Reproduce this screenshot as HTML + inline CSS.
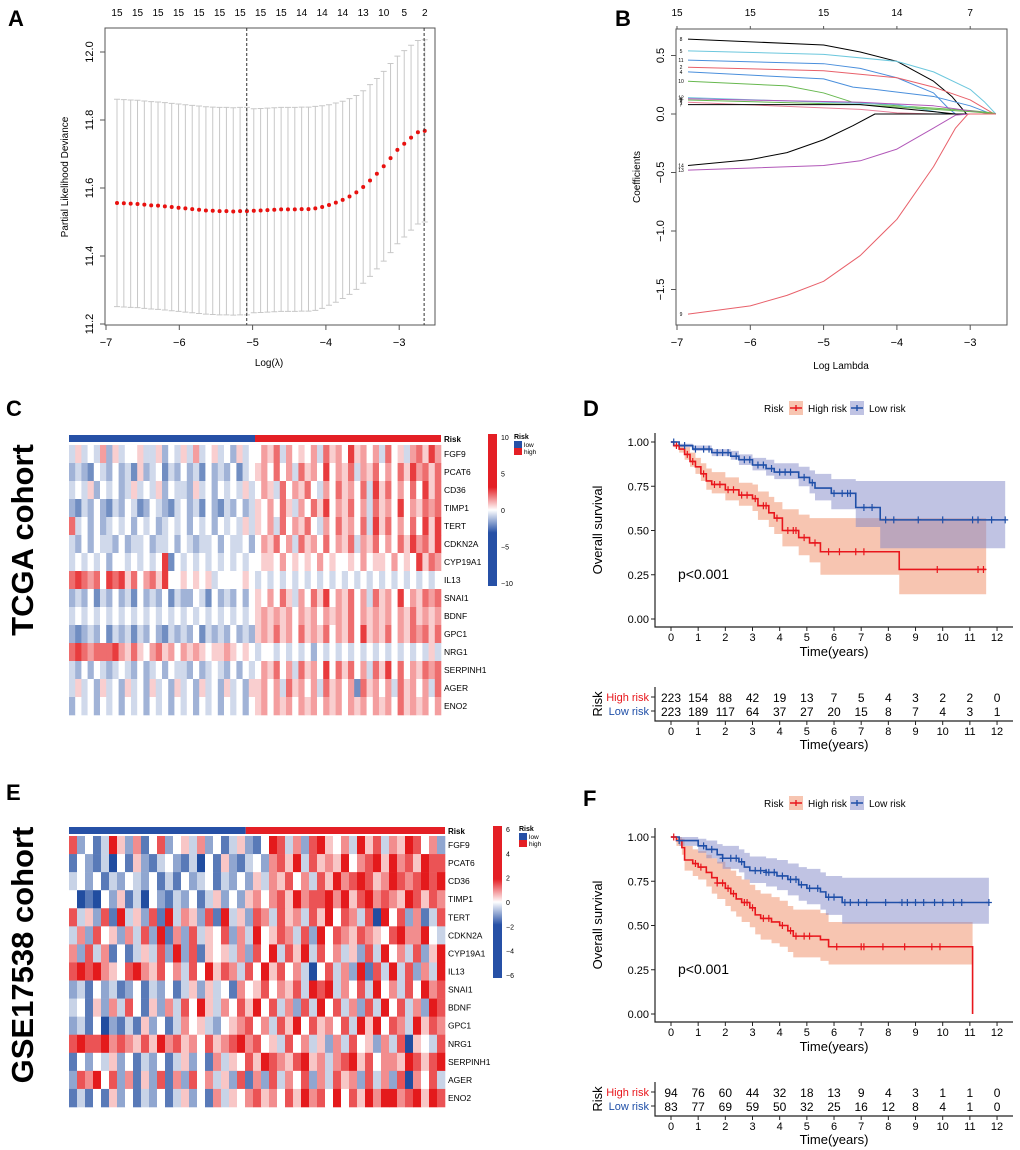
<!DOCTYPE html>
<html><head><meta charset="utf-8"><style>
html,body{margin:0;padding:0;background:#fff;width:1020px;height:1150px;overflow:hidden}
svg{display:block;font-family:"Liberation Sans",Arial,sans-serif}
</style></head><body>
<svg id="fig" width="1020" height="1150" viewBox="0 0 1020 1150"></svg>
<script>
// ---------- Panel A data ----------
const lassoLogLambda0 = -6.85, lassoStep = 0.0933;
const lassoMean = [11.556,11.555,11.554,11.553,11.551,11.549,11.548,11.546,11.544,11.542,11.540,11.538,11.536,11.534,11.533,11.532,11.532,11.531,11.532,11.532,11.533,11.534,11.535,11.536,11.537,11.537,11.537,11.538,11.538,11.540,11.544,11.550,11.557,11.565,11.575,11.587,11.603,11.622,11.642,11.664,11.688,11.712,11.730,11.748,11.764,11.768];
const lassoSE = [0.305,0.305,0.305,0.305,0.305,0.305,0.305,0.305,0.305,0.305,0.305,0.305,0.305,0.305,0.305,0.305,0.305,0.305,0.305,0.305,0.30,0.30,0.30,0.30,0.30,0.30,0.30,0.30,0.30,0.30,0.298,0.295,0.293,0.29,0.288,0.285,0.283,0.282,0.28,0.279,0.278,0.276,0.274,0.272,0.27,0.268];
const lassoTopLabels = ["15","15","15","15","15","15","15","15","15","14","14","14","13","10","5","2"];
const lassoVlines = [-5.08,-2.66];
const aXTicks = [-7,-6,-5,-4,-3];
const aYTicks = ["11.2","11.4","11.6","11.8","12.0"];
// ---------- Panel B data ----------
const coefColors = ["#000","#6cc7dd","#4a8fdc","#e8606a","#4a8fdc","#67b84f","#6cc7dd","#b157b8","#67b84f","#e8809a","#000","#000","#b157b8","#e8606a"];
const coefLabels = ["8","5","11","2","4","10","12","6","3","1","7","14","13","9"];
const coefX = [
 [-6.85,-5,-4.5,-4,-3.5,-3.25,-3.05,-2.65],
 [-6.85,-5,-4,-3.5,-3,-2.8,-2.65],
 [-6.85,-5,-4.5,-4,-3.5,-3.3,-3.2,-2.65],
 [-6.85,-5,-4,-3.5,-3,-2.7,-2.65],
 [-6.85,-5,-4.6,-4.3,-3.5,-3,-2.75,-2.65],
 [-6.85,-5.5,-5,-4.6,-4,-3,-2.7,-2.65],
 [-6.85,-4,-3.3,-2.65],
 [-6.85,-4.5,-3.5,-2.8,-2.65],
 [-6.85,-4.5,-3,-2.7,-2.65],
 [-6.85,-4.5,-4,-3.5,-2.65],
 [-6.85,-4.5,-3.5,-3.2,-2.65],
 [-6.85,-6,-5.5,-5,-4.6,-4.3,-2.65],
 [-6.85,-5,-4.5,-4,-3.5,-3.2,-3.0,-2.65],
 [-6.85,-6,-5.5,-5,-4.5,-4,-3.5,-3.2,-3.03,-2.65]];
const coefY = [
 [0.64,0.59,0.53,0.45,0.28,0.15,0,0],
 [0.54,0.51,0.45,0.36,0.21,0.1,0],
 [0.46,0.43,0.39,0.31,0.18,0.05,0,0],
 [0.40,0.37,0.31,0.23,0.12,0.01,0],
 [0.36,0.30,0.23,0.21,0.15,0.07,0.01,0],
 [0.28,0.24,0.18,0.10,0.07,0.03,0.01,0],
 [0.14,0.08,0,0],
 [0.13,0.10,0.07,0.01,0],
 [0.12,0.08,0.02,0.005,0],
 [0.10,0.04,0.01,0,0],
 [0.08,0.08,0.02,0,0],
 [-0.44,-0.39,-0.33,-0.22,-0.1,0,0],
 [-0.48,-0.44,-0.40,-0.30,-0.12,-0.01,0,0],
 [-1.71,-1.64,-1.55,-1.43,-1.21,-0.9,-0.45,-0.12,0,0]];
const bTopLabels = ["15","15","15","14","7"];
const bXTicks = [-7,-6,-5,-4,-3];
const bYTicks = [0.5,0,-0.5,-1,-1.5];
// ---------- Heatmap data (digit 0=deep blue,4=white,8=deep red) ----------
const genes = ["FGF9","PCAT6","CD36","TIMP1","TERT","CDKN2A","CYP19A1","IL13","SNAI1","BDNF","GPC1","NRG1","SERPINH1","AGER","ENO2"];
const heatC = [
 "353436253445335243536345342534465736454637564856463745367586",
 "232143242315234132423142324134564746375648465736574647586757",
 "343524342353435243325342434353465374657436475647385746474857",
 "213242132431243213423142132423546475364758465746375648465767",
 "734242343424342343424342434353546374657436475647385746474858",
 "324243324233423342432334243342465746375647465736574647586758",
 "343434244343434814343434343434455464545464544546455464548576",
 "787674878574675844545453444454343434343434343434343434343434",
 "232413242314232413224314232424546475364758465746375648465767",
 "343434343434343434343434343434565656465646565746565646575656",
 "212324132313242132324132324232565756475657465748565746576757",
 "787677786575467564656545565454344343434243434343434343434353",
 "324243234324234243324234324243465746375648475746375847465767",
 "353425342534253425342534253425564637564637564617564637564637",
 "243424342434243424342434243424564656465646564656465647565646"];
const heatE = [
 "72413852614724536241352148736278546385736587462",
 "14213041521342130415213426758375658467858675877",
 "34241324324131423413242536574637586787568767878",
 "40104251304213241352425646758677868578676587576",
 "73527183527183652718352763756375847637084726137",
 "36274526372816273547263845763728476576547866843",
 "62736141353728271545362748375837463527384637258",
 "78786547865746374857637485746304736281738372638",
 "23142312413241352534164574657387836473846374867",
 "34152637415263748536475847362738473627384736287",
 "23140213152413645324567463758475647385847638576",
 "78778676575867564756786745374635263745263705437",
 "14243524132413524163547587657856367857466587578",
 "27684726152716274635271627364726375627362706473",
 "13141524132413524163546756475867484758688678587"];
const splitC = 30/60, splitE = 0.47;
const cbarTicksC = ["10","5","0","-5","-10"];
const cbarTicksE = ["6","4","2","0","-2","-4","-6"];
// ---------- KM data ----------
const dHighT = [0,0.1,0.3,0.5,0.7,0.9,1.1,1.3,1.5,2.0,2.5,3.0,3.2,3.6,3.8,4.1,4.7,5.1,5.5,8.4,11.6];
const dHighS = [1,0.98,0.96,0.93,0.89,0.86,0.82,0.78,0.76,0.73,0.70,0.68,0.64,0.60,0.57,0.50,0.46,0.43,0.38,0.28,0.28];
const dHighLo= [1,0.97,0.94,0.90,0.86,0.82,0.78,0.73,0.71,0.67,0.64,0.61,0.56,0.52,0.48,0.41,0.36,0.32,0.25,0.14,0.14];
const dHighHi= [1,0.99,0.98,0.97,0.94,0.91,0.88,0.85,0.83,0.80,0.77,0.76,0.72,0.69,0.66,0.62,0.59,0.57,0.57,0.57,0.57];
const dHighCens = [0.2,0.6,0.8,1.2,1.6,1.8,2.1,2.3,2.6,2.8,3.1,3.4,3.5,3.9,4.3,4.5,4.6,4.9,5.3,5.8,6.2,6.8,7.1,9.8,11.3,11.5];
const dLowT = [0,0.3,0.8,1.5,2.2,2.5,3.0,3.5,3.8,4.7,5.1,5.3,5.9,6.8,7.7,12.3];
const dLowS = [1,0.98,0.96,0.94,0.92,0.90,0.87,0.85,0.83,0.80,0.77,0.74,0.71,0.63,0.56,0.56];
const dLowLo= [1,0.97,0.95,0.92,0.90,0.87,0.84,0.81,0.79,0.75,0.71,0.67,0.62,0.52,0.40,0.40];
const dLowHi= [1,0.99,0.98,0.96,0.95,0.93,0.91,0.90,0.88,0.86,0.84,0.82,0.79,0.78,0.78,0.78];
const dLowCens = [0.1,0.5,0.9,1.2,1.4,1.7,1.9,2.1,2.4,2.7,2.9,3.2,3.4,3.7,4.0,4.2,4.4,4.9,5.2,6.0,6.3,6.5,6.6,7.1,7.4,7.9,8.2,9.1,10.0,11.1,11.3,11.8,12.3];
const dHighRisk = [223,154,88,42,19,13,7,5,4,3,2,2,0];
const dLowRisk = [223,189,117,64,37,27,20,15,8,7,4,3,1];
const fHighT = [0,0.2,0.4,0.5,0.8,1.0,1.3,1.5,1.7,2.0,2.2,2.4,2.6,2.9,3.1,3.3,3.7,4.0,4.3,4.5,5.5,5.8,11.1];
const fHighS = [1,0.98,0.94,0.87,0.85,0.83,0.80,0.77,0.74,0.71,0.68,0.65,0.63,0.60,0.56,0.54,0.52,0.50,0.47,0.44,0.42,0.38,0];
const fHighLo= [1,0.95,0.90,0.81,0.78,0.76,0.72,0.68,0.65,0.61,0.58,0.55,0.52,0.49,0.45,0.42,0.40,0.38,0.35,0.32,0.30,0.28,0.28];
const fHighHi= [1,1,0.99,0.95,0.93,0.92,0.90,0.88,0.86,0.83,0.81,0.78,0.76,0.73,0.70,0.68,0.66,0.64,0.61,0.59,0.57,0.52,0.52];
const fHighCens = [0.1,0.9,1.1,1.7,1.9,2.1,2.3,2.7,2.8,3.0,3.4,3.6,4.1,4.4,4.6,4.9,5.1,6.1,7.0,7.1,7.8,8.6,9.6,9.9];
const fLowT = [0,0.3,1.0,1.3,1.7,1.9,2.5,2.7,2.9,3.5,3.9,4.3,4.7,5.0,5.5,5.7,6.3,11.7];
const fLowS = [1,0.98,0.95,0.93,0.90,0.88,0.86,0.83,0.81,0.80,0.78,0.76,0.73,0.71,0.69,0.66,0.63,0.63];
const fLowLo= [1,0.95,0.91,0.88,0.85,0.82,0.80,0.76,0.74,0.72,0.70,0.67,0.64,0.62,0.59,0.56,0.51,0.51];
const fLowHi= [1,1,0.99,0.98,0.96,0.95,0.93,0.91,0.89,0.88,0.87,0.85,0.83,0.82,0.80,0.78,0.77,0.77];
const fLowCens = [0.3,1.2,1.5,1.9,2.2,2.4,2.6,3.1,3.3,3.5,3.6,3.8,4.1,4.4,4.6,4.8,5.1,5.4,5.8,6.0,6.4,6.6,6.9,7.2,7.9,8.5,8.7,9.0,9.3,9.7,10.0,10.4,10.7,11.7];
const fHighRisk = [94,76,60,44,32,18,13,9,4,3,1,1,0];
const fLowRisk = [83,77,69,59,50,32,25,16,12,8,4,1,0];
const kmTicks = [0,1,2,3,4,5,6,7,8,9,10,11,12];
const kmYTicks = [0,0.25,0.5,0.75,1];

const NS="http://www.w3.org/2000/svg";
const svg=document.getElementById('fig');
function mk(tag,attrs,parent,text){const e=document.createElementNS(NS,tag);for(const k in attrs)e.setAttribute(k,attrs[k]);if(text!==undefined)e.textContent=text;(parent||svg).appendChild(e);return e;}
function txt(x,y,s,size,anchor,extra,parent){const o=Object.assign({x:x,y:y,'font-size':size,'text-anchor':anchor||'middle'},extra||{});return mk('text',o,parent,s);}
function grp(name){const g=mk('g',{});return g;}

// panel letters & cohort titles
[["A",8,26],["B",615,26],["C",6,416],["D",583,416],["E",6,800],["F",583,806]].forEach(p=>{
 const t=txt(p[1],p[2],p[0],22,'start',{'font-weight':'bold'});
 
 
});
let t1=txt(0,0,"TCGA cohort",31,'middle',{'font-weight':'bold',transform:'translate(33,540) rotate(-90)'});


let t2=txt(0,0,"GSE17538 cohort",31,'middle',{'font-weight':'bold',transform:'translate(33,955) rotate(-90)'});



// ---------- Panel A ----------
(function(){
 const g=grp('panel-a-cv-plot');
 const xA=v=>106+(v+7)*73.3, yA=v=>324-(v-11.2)*340;
 mk('rect',{x:105,y:28,width:330,height:297,fill:'none',stroke:'#555','stroke-width':1},g);
 lassoMean.forEach((m,i)=>{
  const lx=lassoLogLambda0+i*lassoStep, x=xA(lx);
  const hi=yA(m+lassoSE[i]), lo=yA(m-lassoSE[i]);
  const eb=mk('path',{d:`M${x},${hi}V${lo}M${x-3},${hi}H${x+3}M${x-3},${lo}H${x+3}`,stroke:'#c8c8c8','stroke-width':1,fill:'none'},g);
  
  
 });
 lassoMean.forEach((m,i)=>{
  const c=mk('circle',{cx:xA(lassoLogLambda0+i*lassoStep),cy:yA(m),r:2,fill:'#e8110f'},g);
  
  
 });
 lassoVlines.forEach(v=>{const l=mk('line',{x1:xA(v),x2:xA(v),y1:28,y2:325,stroke:'#333','stroke-dasharray':'3,2'},g);
  
  });
 lassoTopLabels.forEach((s,i)=>{const idx=Math.min(i*3,45);txt(xA(lassoLogLambda0+idx*lassoStep),16,s,10,'middle',{},g);});
 aXTicks.forEach(v=>{mk('line',{x1:xA(v),x2:xA(v),y1:325,y2:330,stroke:'#555'},g);txt(xA(v),346,String(v).replace('-','\u2212'),11,'middle',{},g);});
 mk('line',{x1:xA(-7),x2:xA(-3),y1:325,y2:325,stroke:'#555'},g);
 aYTicks.forEach(s=>{const y=yA(+s);mk('line',{x1:100,x2:105,y1:y,y2:y,stroke:'#555'},g);txt(0,0,s,11,'middle',{transform:`translate(93,${y}) rotate(-90)`},g);});
 txt(269,366,"Log(\u03bb)",10,'middle',{},g);
 txt(0,0,"Partial Likelihood Deviance",10,'middle',{transform:'translate(68,177) rotate(-90)'},g);
})();

// ---------- Panel B ----------
(function(){
 const g=grp('panel-b-coef-path');
 const xB=v=>677+(v+7)*73.3, yB=v=>114-v*117;
 mk('rect',{x:676,y:29,width:331,height:296,fill:'none',stroke:'#555'},g);
 coefX.forEach((xs,k)=>{
  const d=xs.map((x,i)=>(i?'L':'M')+xB(x)+','+yB(coefY[k][i])).join('');
  const p=mk('path',{d:d,stroke:coefColors[k],fill:'none','stroke-width':1,'stroke-linejoin':'round'},g);
  
  
  txt(681,yB(coefY[k][0])+2,coefLabels[k],5,'middle',{},g);
 });
 bTopLabels.forEach((s,i)=>{const x=xB(bXTicks[i]);txt(x,16,s,10,'middle',{},g);mk('line',{x1:x,x2:x,y1:26,y2:29,stroke:'#555'},g);});
 bXTicks.forEach(v=>{mk('line',{x1:xB(v),x2:xB(v),y1:325,y2:330,stroke:'#555'},g);txt(xB(v),346,String(v).replace('-','\u2212'),11,'middle',{},g);});
 bYTicks.forEach(v=>{const y=yB(v);mk('line',{x1:671,x2:676,y1:y,y2:y,stroke:'#555'},g);txt(0,0,v.toFixed(1).replace('-','\u2212'),11,'middle',{transform:`translate(664,${y}) rotate(-90)`},g);});
 txt(841,369,"Log Lambda",10,'middle',{},g);
 txt(0,0,"Coefficients",10,'middle',{transform:'translate(640,177) rotate(-90)'},g);
})();

// ---------- Heatmaps ----------
function colorOf(d,pale){
 let t=(d-4)/4; if(pale) t*=0.85;
 const w=[255,255,255], r=[228,26,28], b=[33,77,160];
 const c=t>=0?r:b, a=Math.abs(t);
 return `rgb(${w.map((v,i)=>Math.round(v+(c[i]-v)*a)).join(',')})`;
}
function heatmap(name,rows,x0,x1,barY,rowY0,rowY1,split,pale,cb,cbTicks){
 const g=grp(name);
 const W=x1-x0;
 const rb=mk('rect',{x:x0,y:barY,width:W*split,height:7,fill:'#2650a6'},g);
 
 
 const rr=mk('rect',{x:x0+W*split,y:barY,width:W*(1-split),height:7,fill:'#e41f25'},g);
 
 
 txt(x1+3,barY+7,"Risk",8,'start',{'font-weight':'bold'},g);
 const rh=(rowY1-rowY0)/rows.length;
 rows.forEach((s,r)=>{
  const cw=W/s.length;
  for(let c=0;c<s.length;c++){
   const cell=mk('rect',{x:x0+c*cw,y:rowY0+r*rh,width:cw+0.3,height:rh+0.3,fill:colorOf(+s[c],pale)},g);
   
   
  }
  txt(x1+3,rowY0+r*rh+rh/2+3,genes[r],8.5,'start',{},g);
 });
 const gid=name+'-grad';
 const defs=mk('defs',{},g);const lg=mk('linearGradient',{id:gid,x1:0,y1:0,x2:0,y2:1},defs);
 [[0,'#e41f25'],[0.35,'#e41f25'],[0.5,'#ffffff'],[0.65,'#2650a6'],[1,'#2650a6']].forEach(s=>mk('stop',{offset:s[0],'stop-color':s[1]},lg));
 const cbr=mk('rect',{x:cb[0],y:cb[1],width:9,height:cb[2]-cb[1],fill:`url(#${gid})`},g);
 
 
 cbTicks.forEach((s,i)=>{const y=cb[1]+3+(cb[2]-cb[1]-6)*i/(cbTicks.length-1);txt(cb[0]+13,y+3,s.replace('-','\u2212'),7,'start',{},g);});
 txt(cb[0]+26,cb[1]+5,"Risk",7,'start',{'font-weight':'bold'},g);
 mk('rect',{x:cb[0]+26,y:cb[1]+7,width:8,height:7,fill:'#2650a6'},g);
 mk('rect',{x:cb[0]+26,y:cb[1]+14,width:8,height:7,fill:'#e41f25'},g);
 txt(cb[0]+36,cb[1]+13,"low",6.5,'start',{},g);
 txt(cb[0]+36,cb[1]+20,"high",6.5,'start',{},g);
}
heatmap('heatmap-tcga',heatC,69,441,435,445,715,splitC,true,[488,434,586],cbarTicksC);
heatmap('heatmap-gse',heatE,69,445,827,836,1107,splitE,false,[493,826,978],cbarTicksE);

// ---------- KM ----------
function km(name,yTop,yAxis,legY,tblY,cfg){
 const g=grp(name);
 const x=t=>671+t*27.17, yv=s=>(yAxis-8)-s*(yAxis-8-(yTop+9));
 function band(T,lo,hi,end,fill){
  let d='M'+x(T[0])+','+yv(hi[0]);
  for(let i=0;i<T.length;i++){const tn=i<T.length-1?T[i+1]:end;d+='L'+x(T[i])+','+yv(hi[i])+'L'+x(tn)+','+yv(hi[i]);}
  for(let i=T.length-1;i>=0;i--){const tn=i<T.length-1?T[i+1]:end;d+='L'+x(tn)+','+yv(lo[i])+'L'+x(T[i])+','+yv(lo[i]);}
  return mk('path',{d:d+'Z',fill:fill,stroke:'none'},g);
 }
 function step(T,S,end,col){
  let d='M'+x(T[0])+','+yv(S[0]);
  for(let i=1;i<T.length;i++)d+='H'+x(T[i])+'V'+yv(S[i]);
  d+='H'+x(end);
  return mk('path',{d:d,fill:'none',stroke:col,'stroke-width':1.6},g);
 }
 function survAt(T,S,t){let s=S[0];for(let i=0;i<T.length;i++)if(T[i]<=t)s=S[i];return s;}
 const hb=band(cfg.hT,cfg.hLo,cfg.hHi,cfg.hEnd,'rgba(240,140,100,0.5)');
 
 
 const lb=band(cfg.lT,cfg.lLo,cfg.lHi,cfg.lEnd,'rgba(130,135,200,0.5)');
 
 
 const hs=step(cfg.hT,cfg.hS,cfg.hEnd,'#e8161c');
 
 
 const ls=step(cfg.lT,cfg.lS,cfg.lEnd,'#1f4fa8');
 
 
 [[cfg.hC,cfg.hT,cfg.hS,'#e8161c'],[cfg.lC,cfg.lT,cfg.lS,'#1f4fa8']].forEach(a=>a[0].forEach(t=>{
  const cx=x(t),cy=yv(survAt(a[1],a[2],t));
  const m=mk('path',{d:`M${cx},${cy-3.5}V${cy+3.5}M${cx-3},${cy}H${cx+3}`,stroke:a[3],'stroke-width':1.2},g);
  
  
 }));
 mk('path',{d:`M655,${yTop}V${yAxis}H1013`,stroke:'#222',fill:'none','stroke-width':1.2},g);
 kmYTicks.forEach(s=>{const y=yv(s);mk('line',{x1:651,x2:655,y1:y,y2:y,stroke:'#222'},g);txt(649,y+4,s.toFixed(2),11,'end',{},g);});
 kmTicks.forEach(t=>{mk('line',{x1:x(t),x2:x(t),y1:yAxis,y2:yAxis+4,stroke:'#222'},g);txt(x(t),yAxis+14,String(t),11,'middle',{},g);});
 txt(834,yAxis+29,"Time(years)",13,'middle',{},g);
 txt(0,0,"Overall survival",13,'middle',{transform:`translate(602,${(yTop+yAxis)/2}) rotate(-90)`},g);
 txt(678,yv(0.25)+4,"p<0.001",14,'start',{},g);
 const lg=grp(name+'-legend');g.appendChild(lg);
 txt(764,legY+4,"Risk",10,'start',{},lg);
 mk('rect',{x:789,y:legY-7,width:14,height:14,fill:'rgba(240,140,100,0.5)'},lg);
 mk('path',{d:`M790,${legY}H802M796,${legY-3}V${legY+3}`,stroke:'#e8161c','stroke-width':1.4},lg);
 txt(808,legY+4,"High risk",10,'start',{},lg);
 mk('rect',{x:850,y:legY-7,width:14,height:14,fill:'rgba(130,135,200,0.5)'},lg);
 mk('path',{d:`M851,${legY}H863M857,${legY-3}V${legY+3}`,stroke:'#1f4fa8','stroke-width':1.4},lg);
 txt(869,legY+4,"Low risk",10,'start',{},lg);
 const tb=grp(name+'-risk-table');g.appendChild(tb);
 mk('path',{d:`M655,${tblY-10}V${tblY+24}H1013`,stroke:'#222',fill:'none','stroke-width':1.2},tb);
 txt(649,tblY+4,"High risk",11,'end',{fill:'#e8161c'},tb);
 txt(649,tblY+18,"Low risk",11,'end',{fill:'#1f4fa8'},tb);
 mk('line',{x1:651,x2:655,y1:tblY,y2:tblY,stroke:'#222'},tb);
 mk('line',{x1:651,x2:655,y1:tblY+14,y2:tblY+14,stroke:'#222'},tb);
 txt(0,0,"Risk",13,'middle',{transform:`translate(602,${tblY+7}) rotate(-90)`},tb);
 kmTicks.forEach((t,i)=>{
  txt(x(t),tblY+5,String(cfg.hR[i]),12,'middle',{},tb);
  txt(x(t),tblY+19,String(cfg.lR[i]),12,'middle',{},tb);
  mk('line',{x1:x(t),x2:x(t),y1:tblY+24,y2:tblY+28,stroke:'#222'},tb);
  txt(x(t),tblY+38,String(t),11,'middle',{},tb);
 });
 txt(834,tblY+52,"Time(years)",13,'middle',{},tb);
}
km('km-tcga',433,627,408,697,{hT:dHighT,hS:dHighS,hLo:dHighLo,hHi:dHighHi,hEnd:11.6,hC:dHighCens,lT:dLowT,lS:dLowS,lLo:dLowLo,lHi:dLowHi,lEnd:12.3,lC:dLowCens,hR:dHighRisk,lR:dLowRisk});
km('km-gse',828,1022,803,1092,{hT:fHighT,hS:fHighS,hLo:fHighLo,hHi:fHighHi,hEnd:11.1,hC:fHighCens,lT:fLowT,lS:fLowS,lLo:fLowLo,lHi:fLowHi,lEnd:11.7,lC:fLowCens,hR:fHighRisk,lR:fLowRisk});
</script>
</body></html>
